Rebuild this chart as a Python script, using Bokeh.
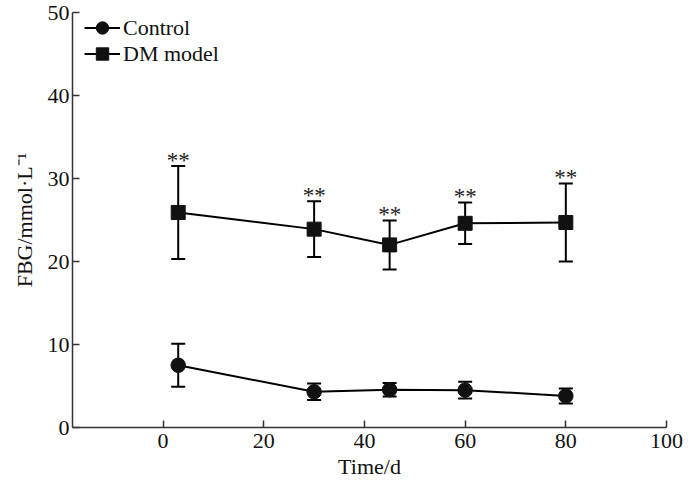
from bokeh.plotting import figure
from bokeh.models import (ColumnDataSource, Whisker, TeeHead, Legend, LegendItem,
                          FixedTicker, Range1d)
from bokeh.core.properties import value
from bokeh.embed import file_html
from bokeh.resources import INLINE

days = [3, 30, 45, 60, 80]
control_mean = [7.5, 4.3, 4.55, 4.5, 3.8]
control_sd = [2.6, 1.0, 0.8, 1.0, 0.9]
dm_mean = [25.9, 23.9, 22.0, 24.6, 24.7]
dm_sd = [5.6, 3.35, 2.95, 2.5, 4.7]
sig_label = ["**", "**", "**", "**", "**"]
x_ticks = [0, 20, 40, 60, 80, 100]
y_ticks = [0, 10, 20, 30, 40, 50]

FONT = "Liberation Serif"
FS = "22px"

ctrl = ColumnDataSource(dict(
    x=days, y=control_mean,
    upper=[m + s for m, s in zip(control_mean, control_sd)],
    lower=[m - s for m, s in zip(control_mean, control_sd)]))
dm = ColumnDataSource(dict(
    x=days, y=dm_mean,
    upper=[m + s for m, s in zip(dm_mean, dm_sd)],
    lower=[m - s for m, s in zip(dm_mean, dm_sd)],
    lab=sig_label))

p = figure(width=684, height=484, output_backend="svg", toolbar_location=None,
           x_range=Range1d(-18, 100), y_range=Range1d(0, 50),
           min_border_left=72, min_border_right=18, min_border_top=12,
           min_border_bottom=57)
p.outline_line_color = None
p.grid.visible = False
p.background_fill_color = "white"

for ax in (p.xaxis[0], p.yaxis[0]):
    ax.major_tick_in = 7
    ax.major_tick_out = 0
    ax.minor_tick_line_color = None
    ax.axis_line_color = "#333333"
    ax.axis_line_width = 1.5
    ax.major_tick_line_color = "#333333"
    ax.major_tick_line_width = 1.5
    ax.major_label_text_font = FONT
    ax.major_label_text_font_size = FS
    ax.major_label_text_color = "#111111"
    ax.axis_label_text_font = FONT
    ax.axis_label_text_font_size = FS
    ax.axis_label_text_font_style = "normal"
    ax.axis_label_text_color = "#111111"

p.xaxis.ticker = FixedTicker(ticks=x_ticks)
p.yaxis.ticker = FixedTicker(ticks=y_ticks)
p.xaxis.bounds = (-18, 100)
p.yaxis.bounds = (0, 50)
p.xaxis.axis_label = "Time/d"
p.yaxis.axis_label = "FBG/mmol\u00b7L\u207b\u00b9"
p.xaxis.major_label_standoff = 6
p.xaxis.axis_label_standoff = 3
p.yaxis.major_label_standoff = 3
p.yaxis.axis_label_standoff = 8

for src in (ctrl, dm):
    p.add_layout(Whisker(base="x", upper="upper", lower="lower", source=src,
                         line_color="black", line_width=2,
                         upper_head=TeeHead(size=14, line_width=2, line_color="black"),
                         lower_head=TeeHead(size=14, line_width=2, line_color="black")))

lc = p.line("x", "y", source=ctrl, line_color="black", line_width=2)
sc = p.scatter("x", "y", source=ctrl, marker="circle", size=14.5,
               fill_color="#111111", line_color="#111111")
ld = p.line("x", "y", source=dm, line_color="black", line_width=2)
sd = p.scatter("x", "y", source=dm, marker="square", size=14,
               fill_color="#111111", line_color="#111111")

p.text("x", "upper", text="lab", source=dm, text_font=value(FONT),
       text_font_size="23px", text_align="center", text_baseline="alphabetic",
       text_color="#222222", y_offset=-6)

common = dict(margin=0, padding=0, glyph_width=36, glyph_height=31, label_height=22,
              label_standoff=3, label_text_font=FONT, label_text_font_size=FS,
              label_text_color="#111111", border_line_color=None,
              background_fill_alpha=0)
legend_c = Legend(items=[LegendItem(label="Control", renderers=[lc, sc])],
                  location=(12, 384), **common)
legend_d = Legend(items=[LegendItem(label="DM model", renderers=[ld, sd])],
                  location=(12, 358), **common)
p.add_layout(legend_c)
p.add_layout(legend_d)

open("out.html", "w").write(file_html(p, INLINE))
